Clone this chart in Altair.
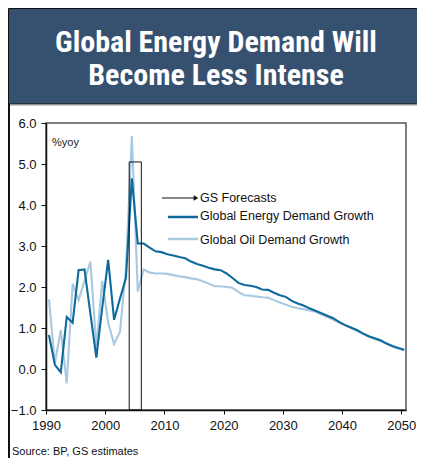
import altair as alt
import pandas as pd

# ---------------- data ----------------
years = list(range(1990, 2051))
energy = [0.83, 0.10, -0.08, 1.27, 1.13, 2.41, 2.43, 1.35, 0.28, 1.50,
          2.66, 1.20, 1.72, 2.22, 4.65, 3.06, 3.06, 2.96, 2.87, 2.85,
          2.80, 2.77, 2.73, 2.70, 2.62, 2.56, 2.52, 2.47, 2.43, 2.41,
          2.33, 2.22, 2.10, 2.05, 2.03, 2.00, 1.94, 1.93, 1.86, 1.80,
          1.76, 1.66, 1.60, 1.55, 1.48, 1.42, 1.36, 1.30, 1.24, 1.15,
          1.07, 1.01, 0.95, 0.87, 0.80, 0.75, 0.70, 0.62, 0.56, 0.51, 0.47]
oil = [1.70, 0.15, 0.95, -0.35, 2.08, 1.68, 2.15, 2.62, 0.54, 2.15,
       1.13, 0.61, 0.91, 2.45, 5.68, 1.89, 2.43, 2.35, 2.33, 2.33,
       2.32, 2.29, 2.26, 2.24, 2.21, 2.19, 2.14, 2.08, 2.02, 2.02,
       2.00, 1.98, 1.88, 1.80, 1.79, 1.77, 1.75, 1.74, 1.68, 1.62,
       1.57, 1.52, 1.48, 1.46, 1.43, 1.40, 1.33, 1.27, 1.20, 1.13,
       1.07, 1.00, 0.93, 0.86, 0.79, 0.73, 0.68, 0.62, 0.55, 0.50, 0.45]
x_ticks = [1990, 2000, 2010, 2020, 2030, 2040, 2050]
y_ticks = [-1.0, 0.0, 1.0, 2.0, 3.0, 4.0, 5.0, 6.0]
forecast_box = {"x": 2004.05, "x2": 2006.1, "y": -1.0, "y2": 5.05}
series_names = ["Global Energy Demand Growth", "Global Oil Demand Growth"]
legend_labels = ["GS Forecasts", "Global Energy Demand Growth", "Global Oil Demand Growth"]
title_lines = ["Global Energy Demand Will", "Become Less Intense"]
unit_label = "%yoy"
source_text = "Source: BP, GS estimates"

# ---------------- style ----------------
DARK = "#0f6a9c"
LIGHT = "#a9c9e1"
BAND = "#36516f"
FONT = "Liberation Sans"
TFONT = "'Roboto Condensed', 'DejaVu Sans Condensed', Roboto, sans-serif"
W, H = 360, 287

df_e = pd.DataFrame({"year": years, "value": energy, "series": series_names[0]})
df_o = pd.DataFrame({"year": years, "value": oil, "series": series_names[1]})

xscale = alt.Scale(domain=[1990, 2050.8], nice=False, zero=False)
yscale = alt.Scale(domain=[-1, 6], nice=False, zero=False)
xaxis = alt.Axis(values=x_ticks, format="d", title=None, grid=False, tickSize=4,
                 labelPadding=5, labelFlush=False)
yaxis = alt.Axis(values=y_ticks, format=".1f", title=None, grid=False, tickSize=5,
                 labelPadding=5, labelFlush=False)


def line(df, color):
    return alt.Chart(df).transform_calculate(xpos="datum.year + 0.5").mark_line(
        color=color, strokeWidth=2.1
    ).encode(
        x=alt.X("xpos:Q", scale=xscale, axis=xaxis),
        y=alt.Y("value:Q", scale=yscale, axis=yaxis),
    )


oil_line = line(df_o, LIGHT)
energy_line = line(df_e, DARK)

box = alt.Chart(pd.DataFrame([forecast_box])).mark_rect(
    fillOpacity=0, stroke="#111", strokeWidth=1
).encode(
    x=alt.X("x:Q", scale=xscale, axis=xaxis), x2="x2:Q",
    y=alt.Y("y:Q", scale=yscale, axis=yaxis), y2="y2:Q",
)

one = pd.DataFrame({"a": [0]})
base = alt.Chart(one)

band = base.mark_rect(color=BAND, stroke="#111", strokeWidth=1).encode(
    x=alt.value(-37.5), x2=alt.value(420), y=alt.value(-114.5), y2=alt.value(-19))
under_band = base.mark_rule(color="#9a9a9a", strokeWidth=1).encode(
    x=alt.value(-37), x2=alt.value(420), y=alt.value(-18), y2=alt.value(-18))
left_border = base.mark_rule(color="#111", strokeWidth=2).encode(
    x=alt.value(-37), x2=alt.value(-37), y=alt.value(-19), y2=alt.value(340))

title1 = base.mark_text(font=TFONT, fontWeight="bold", fontSize=30, color="white",
                        align="center", baseline="alphabetic").encode(
    x=alt.value(170), y=alt.value(-71), text=alt.value(title_lines[0]))
title2 = base.mark_text(font=TFONT, fontWeight="bold", fontSize=30, color="white",
                        align="center", baseline="alphabetic").encode(
    x=alt.value(170), y=alt.value(-38), text=alt.value(title_lines[1]))

yoy = base.mark_text(font=FONT, fontSize=11, color="#222", align="left",
                     baseline="middle").encode(
    x=alt.value(6), y=alt.value(20), text=alt.value(unit_label))

arrow = base.mark_rule(color="#111", strokeWidth=1).encode(
    x=alt.value(116), x2=alt.value(148), y=alt.value(75), y2=alt.value(75))
arrow_head = base.mark_point(shape="triangle-right", filled=True, color="#111",
                             size=30, opacity=1).encode(
    x=alt.value(150), y=alt.value(75))
leg_e = base.mark_rule(color=DARK, strokeWidth=2.5).encode(
    x=alt.value(122), x2=alt.value(152), y=alt.value(94), y2=alt.value(94))
leg_o = base.mark_rule(color=LIGHT, strokeWidth=2.5).encode(
    x=alt.value(122), x2=alt.value(152), y=alt.value(116), y2=alt.value(116))


def leg_text(label, y):
    return base.mark_text(font=FONT, fontSize=12.5, color="#111", align="left",
                          baseline="middle").encode(
        x=alt.value(154), y=alt.value(y), text=alt.value(label))


t0 = leg_text(legend_labels[0], 75)
t1 = leg_text(legend_labels[1], 93)
t2 = leg_text(legend_labels[2], 117)

source = base.mark_text(font=FONT, fontSize=11, color="#111", align="left",
                        baseline="middle").encode(
    x=alt.value(-34), y=alt.value(329), text=alt.value(source_text))

chart = alt.layer(
    band, under_band, left_border, title1, title2,
    oil_line, energy_line, box, yoy,
    arrow, arrow_head, leg_e, leg_o, t0, t1, t2, source,
).properties(
    width=W, height=H,
    autosize=alt.AutoSizeParams(type="none"),
    padding={"left": 38, "top": 115, "right": 11, "bottom": 48},
    background="white",
).configure_view(
    stroke="#555", strokeWidth=1.5
).configure_axis(
    domainColor="#111", domainWidth=1.5, tickColor="#111", tickWidth=1,
    labelFont=FONT, labelFontSize=13, labelColor="#111",
)

chart.save("out.html", embed_options={"renderer": "svg", "actions": False})
